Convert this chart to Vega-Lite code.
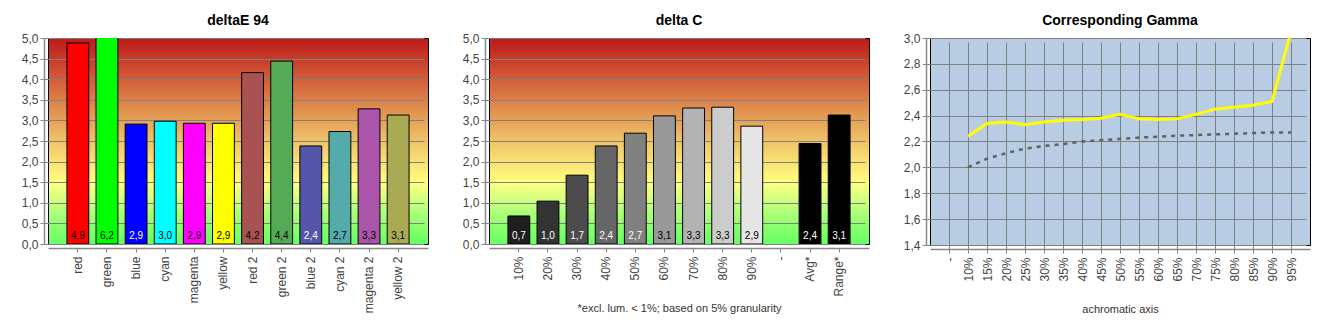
{
  "$schema": "https://vega.github.io/schema/vega-lite/v6.json",
  "padding": {"left": 20, "top": 13, "right": 0, "bottom": 0},
  "background": "#ffffff",
  "spacing": 32,
  "resolve": {"scale": {"fill": "independent", "color": "independent", "x": "independent", "y": "independent"}},
  "config": {
    "locale": {"number": {"decimal": ",", "thousands": ".", "grouping": [3], "currency": ["", ""]}},
    "font": "Liberation Sans",
    "view": {"stroke": "#000000", "strokeWidth": 1},
    "axis": {
      "labelFont": "Liberation Sans",
      "labelFontSize": 12,
      "labelColor": "#444444",
      "domainColor": "#888888",
      "domainWidth": 1.5,
      "tickColor": "#888888",
      "tickSize": 4,
      "gridColor": "#808080",
      "gridWidth": 1,
      "offset": 4,
      "titleFont": "Liberation Sans",
      "titleFontSize": 11,
      "titleFontWeight": "normal",
      "titleColor": "#333333"
    },
    "title": {"font": "Liberation Sans", "fontSize": 14, "fontWeight": "bold", "color": "#000000", "baseline": "alphabetic", "offset": 4}
  },
  "hconcat": [
    {
      "title": "deltaE 94",
      "width": 380,
      "height": 206,
      "view": {"fill": {"gradient": "linear", "x1": 0, "y1": 0, "x2": 0, "y2": 1, "stops": [
        {"offset": 0, "color": "#BC1A1A"}, {"offset": 0.1, "color": "#C83C28"}, {"offset": 0.3, "color": "#DC8048"},
        {"offset": 0.5, "color": "#F0C468"}, {"offset": 0.7, "color": "#FFFF80"}, {"offset": 0.8, "color": "#C8FF80"},
        {"offset": 0.9, "color": "#90FF70"}, {"offset": 1, "color": "#66FF66"}]}, "stroke": "#000000"},
      "data": {"values": [
        {"name": "red", "v": 4.88}, {"name": "green", "v": 6.2}, {"name": "blue", "v": 2.91},
        {"name": "cyan", "v": 2.98}, {"name": "magenta", "v": 2.93}, {"name": "yellow", "v": 2.93},
        {"name": "red 2", "v": 4.16}, {"name": "green 2", "v": 4.44}, {"name": "blue 2", "v": 2.38},
        {"name": "cyan 2", "v": 2.73}, {"name": "magenta 2", "v": 3.28}, {"name": "yellow 2", "v": 3.13}
      ]},
      "encoding": {
        "x": {"field": "name", "type": "nominal", "sort": null,
          "scale": {"domain": ["red", "green", "blue", "cyan", "magenta", "yellow", "red 2", "green 2", "blue 2", "cyan 2", "magenta 2", "yellow 2"], "paddingInner": 0.25, "paddingOuter": 0.65},
          "axis": {"labelAngle": -90, "title": null, "grid": false, "labelPadding": 4}}
      },
      "resolve": {"scale": {"color": "independent"}},
      "layer": [
        {
          "mark": {"type": "bar", "stroke": "#000000", "strokeWidth": 1, "clip": true},
          "encoding": {
            "y": {"field": "v", "type": "quantitative", "scale": {"domain": [0, 5]},
              "axis": {"title": null, "values": [0, 0.5, 1, 1.5, 2, 2.5, 3, 3.5, 4, 4.5, 5], "format": ".1f", "grid": true}},
            "fill": {"field": "name", "type": "nominal",
              "scale": {"domain": ["red", "green", "blue", "cyan", "magenta", "yellow", "red 2", "green 2", "blue 2", "cyan 2", "magenta 2", "yellow 2"],
                "range": ["#FF0000", "#00FF00", "#0000FF", "#00FFFF", "#FF00FF", "#FFFF00", "#A85252", "#55AA55", "#5555AA", "#55AAAA", "#AA55AA", "#AAAA55"]},
              "legend": null}
          }
        },
        {
          "mark": {"type": "text", "baseline": "bottom", "dy": -3, "fontSize": 10, "font": "Liberation Sans"},
          "encoding": {
            "y": {"datum": 0, "type": "quantitative",
              "axis": {"title": null, "values": [0, 0.5, 1, 1.5, 2, 2.5, 3, 3.5, 4, 4.5, 5], "format": ".1f", "grid": true}},
            "text": {"field": "v", "type": "quantitative", "format": ".1f"},
            "color": {"field": "name", "type": "nominal",
              "scale": {"domain": ["red", "green", "blue", "cyan", "magenta", "yellow", "red 2", "green 2", "blue 2", "cyan 2", "magenta 2", "yellow 2"],
                "range": ["#000000", "#000000", "#FFFFFF", "#000000", "#000000", "#000000", "#000000", "#000000", "#FFFFFF", "#000000", "#000000", "#000000"]},
              "legend": null}
          }
        }
      ]
    },
    {
      "title": "delta C",
      "width": 380,
      "height": 206,
      "view": {"fill": {"gradient": "linear", "x1": 0, "y1": 0, "x2": 0, "y2": 1, "stops": [
        {"offset": 0, "color": "#BC1A1A"}, {"offset": 0.1, "color": "#C83C28"}, {"offset": 0.3, "color": "#DC8048"},
        {"offset": 0.5, "color": "#F0C468"}, {"offset": 0.7, "color": "#FFFF80"}, {"offset": 0.8, "color": "#C8FF80"},
        {"offset": 0.9, "color": "#90FF70"}, {"offset": 1, "color": "#66FF66"}]}, "stroke": "#000000"},
      "data": {"values": [
        {"name": "10%", "v": 0.68}, {"name": "20%", "v": 1.04}, {"name": "30%", "v": 1.67},
        {"name": "40%", "v": 2.38}, {"name": "50%", "v": 2.69}, {"name": "60%", "v": 3.11},
        {"name": "70%", "v": 3.3}, {"name": "80%", "v": 3.32}, {"name": "90%", "v": 2.86},
        {"name": "Avg*", "v": 2.44}, {"name": "Range*", "v": 3.13}
      ]},
      "encoding": {
        "x": {"field": "name", "type": "nominal", "sort": null,
          "scale": {"domain": ["10%", "20%", "30%", "40%", "50%", "60%", "70%", "80%", "90%", "-", "Avg*", "Range*"], "paddingInner": 0.25, "paddingOuter": 0.65},
          "axis": {"labelAngle": -90, "title": "*excl. lum. < 1%; based on 5% granularity", "titleY": 60, "titleBaseline": "middle", "grid": false, "labelPadding": 4}}
      },
      "resolve": {"scale": {"color": "independent"}},
      "layer": [
        {
          "mark": {"type": "bar", "stroke": "#000000", "strokeWidth": 1, "clip": true},
          "encoding": {
            "y": {"field": "v", "type": "quantitative", "scale": {"domain": [0, 5]},
              "axis": {"title": null, "values": [0, 0.5, 1, 1.5, 2, 2.5, 3, 3.5, 4, 4.5, 5], "format": ".1f", "grid": true}},
            "fill": {"field": "name", "type": "nominal",
              "scale": {"domain": ["10%", "20%", "30%", "40%", "50%", "60%", "70%", "80%", "90%", "-", "Avg*", "Range*"],
                "range": ["#1E1E1E", "#333333", "#4C4C4C", "#666666", "#808080", "#999999", "#B3B3B3", "#CCCCCC", "#E6E6E6", "#000000", "#000000", "#000000"]},
              "legend": null}
          }
        },
        {
          "mark": {"type": "text", "baseline": "bottom", "dy": -3, "fontSize": 10, "font": "Liberation Sans"},
          "encoding": {
            "y": {"datum": 0, "type": "quantitative",
              "axis": {"title": null, "values": [0, 0.5, 1, 1.5, 2, 2.5, 3, 3.5, 4, 4.5, 5], "format": ".1f", "grid": true}},
            "text": {"field": "v", "type": "quantitative", "format": ".1f"},
            "color": {"field": "name", "type": "nominal",
              "scale": {"domain": ["10%", "20%", "30%", "40%", "50%", "60%", "70%", "80%", "90%", "-", "Avg*", "Range*"],
                "range": ["#FFFFFF", "#FFFFFF", "#FFFFFF", "#FFFFFF", "#FFFFFF", "#000000", "#000000", "#000000", "#000000", "#000000", "#FFFFFF", "#FFFFFF"]},
              "legend": null}
          }
        }
      ]
    },
    {
      "title": "Corresponding Gamma",
      "width": 380,
      "height": 207,
      "view": {"fill": "#B8CCE4", "stroke": "#000000"},
      "data": {"values": [
        {"p": "10%", "g": 2.24, "r": 2.0},
        {"p": "15%", "g": 2.34, "r": 2.067},
        {"p": "20%", "g": 2.35, "r": 2.11},
        {"p": "25%", "g": 2.33, "r": 2.145},
        {"p": "30%", "g": 2.35, "r": 2.165},
        {"p": "35%", "g": 2.365, "r": 2.18},
        {"p": "40%", "g": 2.37, "r": 2.2},
        {"p": "45%", "g": 2.38, "r": 2.21},
        {"p": "50%", "g": 2.41, "r": 2.22},
        {"p": "55%", "g": 2.375, "r": 2.23},
        {"p": "60%", "g": 2.37, "r": 2.237},
        {"p": "65%", "g": 2.375, "r": 2.245},
        {"p": "70%", "g": 2.41, "r": 2.25},
        {"p": "75%", "g": 2.45, "r": 2.255},
        {"p": "80%", "g": 2.465, "r": 2.26},
        {"p": "85%", "g": 2.48, "r": 2.265},
        {"p": "90%", "g": 2.51, "r": 2.27},
        {"p": "95%", "g": 3.05, "r": 2.27}
      ]},
      "encoding": {
        "x": {"field": "p", "type": "ordinal", "sort": null,
          "scale": {"type": "point", "domain": ["-", "10%", "15%", "20%", "25%", "30%", "35%", "40%", "45%", "50%", "55%", "60%", "65%", "70%", "75%", "80%", "85%", "90%", "95%"], "padding": 1.43},
          "axis": {"labelAngle": -90, "title": "achromatic axis", "titleY": 60, "titleBaseline": "middle", "grid": true, "labelPadding": 4}}
      },
      "layer": [
        {
          "mark": {"type": "line", "stroke": "#606060", "strokeWidth": 2.5, "strokeDash": [4, 5], "clip": true},
          "encoding": {
            "y": {"field": "r", "type": "quantitative", "scale": {"domain": [1.4, 3.0]},
              "axis": {"title": null, "values": [1.4, 1.6, 1.8, 2.0, 2.2, 2.4, 2.6, 2.8, 3.0], "format": ".1f", "grid": true}}
          }
        },
        {
          "mark": {"type": "line", "stroke": "#FFFF00", "strokeWidth": 3, "clip": true},
          "encoding": {
            "y": {"field": "g", "type": "quantitative",
              "axis": {"title": null, "values": [1.4, 1.6, 1.8, 2.0, 2.2, 2.4, 2.6, 2.8, 3.0], "format": ".1f", "grid": true}}
          }
        }
      ]
    }
  ]
}
